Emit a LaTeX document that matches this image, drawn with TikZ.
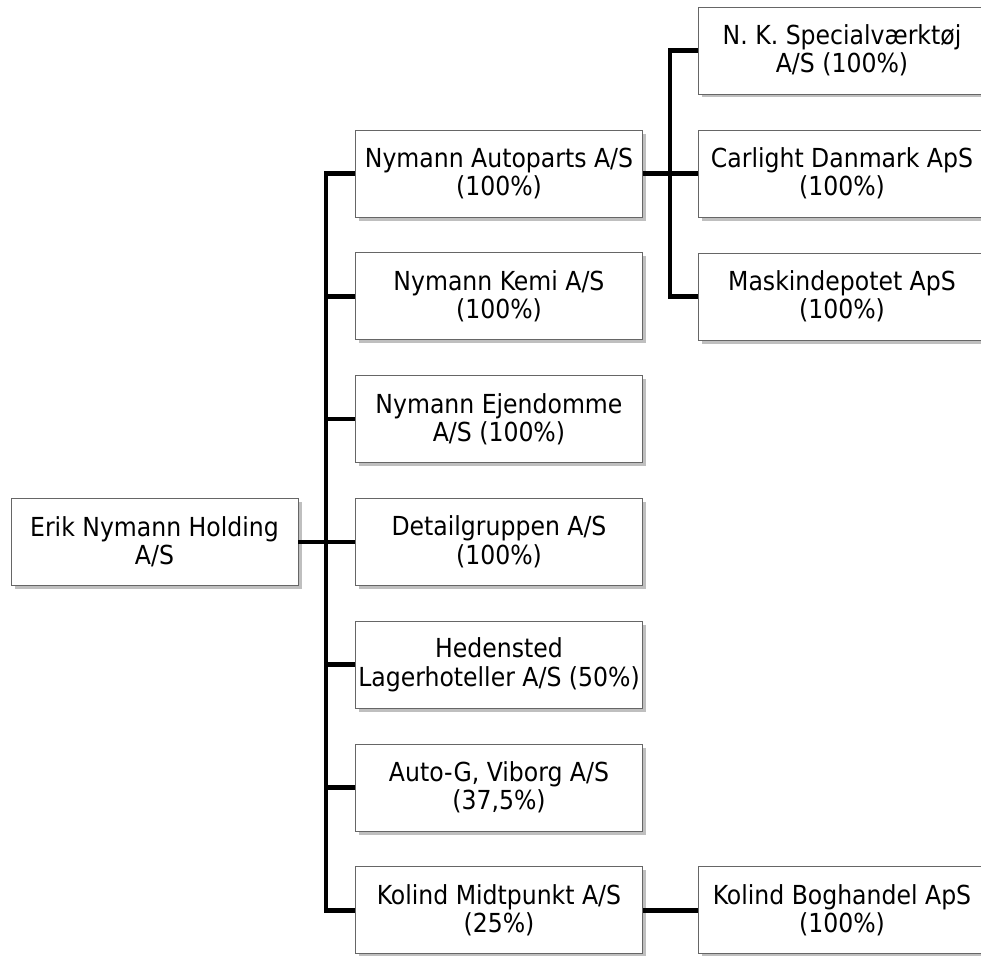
\documentclass[tikz,border=0pt]{standalone}
\usepackage{fontspec}
\setmainfont{DejaVu Sans Condensed}
\usetikzlibrary{shadows}
\begin{document}
\begin{tikzpicture}[x=1pt,y=-1pt,
  orgbox/.style={draw=gray!80!black, line width=0.9pt, fill=white,
    minimum width=287pt, minimum height=87pt, inner sep=0pt,
    align=center, font=\fontsize{26.2}{28.5}\selectfont,
    drop shadow={shadow xshift=3.5pt, shadow yshift=-3.5pt, fill=gray!50, opacity=1}},
  conn/.style={line width=4.5pt, line join=miter, draw=black}]
\useasboundingbox (0,0) rectangle (981,955);
\node[orgbox] (root) at (154.5,542) {Erik Nymann Holding\\A/S};
\node[orgbox] (a) at (499,173.5) {Nymann Autoparts A/S\\(100\%)};
\node[orgbox] (b) at (499,296.3) {Nymann Kemi A/S\\(100\%)};
\node[orgbox] (c) at (499,419.1) {Nymann Ejendomme\\A/S (100\%)};
\node[orgbox] (d) at (499,541.9) {Detailgruppen A/S\\(100\%)};
\node[orgbox] (e) at (499,664.7) {Hedensted\\Lagerhoteller A/S (50\%)};
\node[orgbox] (f) at (499,787.5) {Auto-G, Viborg A/S\\(37,5\%)};
\node[orgbox] (g) at (499,910.3) {Kolind Midtpunkt A/S\\(25\%)};
\node[orgbox] (nk) at (842,50.5) {N. K. Specialværktøj\\A/S (100\%)};
\node[orgbox] (cl) at (842,173.5) {Carlight Danmark ApS\\(100\%)};
\node[orgbox] (mk) at (842,296.5) {Maskindepotet ApS\\(100\%)};
\node[orgbox] (kb) at (842,910.3) {Kolind Boghandel ApS\\(100\%)};
\coordinate (tr) at (326,0);
\coordinate (tr2) at (670,0);
\draw[conn] (root.east) -- (root.east -| tr);
\draw[conn] (a.west) -- (a.west -| tr) -- (g.west -| tr) -- (g.west);
\foreach \n in {b,c,d,e,f} \draw[conn] (\n.west -| tr) -- (\n.west);
\draw[conn] (nk.west) -- (nk.west -| tr2) -- (mk.west -| tr2) -- (mk.west);
\draw[conn] (a.east) -- (cl.west);
\draw[conn] (g.east) -- (kb.west);
\end{tikzpicture}
\end{document}
